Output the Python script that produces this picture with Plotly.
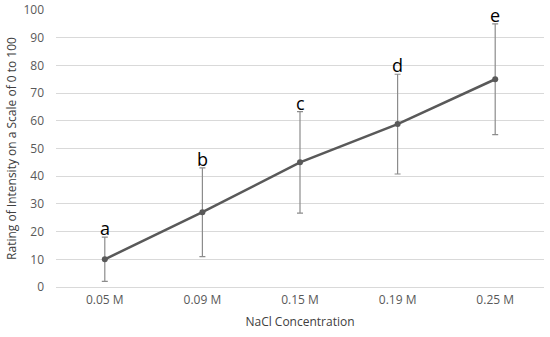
import plotly.graph_objects as go

categories = ["0.05 M", "0.09 M", "0.15 M", "0.19 M", "0.25 M"]
means = [10, 27, 45, 58.8, 75]
errors = [8, 16, 18.3, 18, 20]
letters = ["a", "b", "c", "d", "e"]

fig = go.Figure()
fig.add_trace(go.Scatter(
    x=categories, y=means, mode="lines+markers",
    line=dict(color="#595959", width=2.5),
    marker=dict(color="#595959", size=6),
    error_y=dict(type="data", array=errors, visible=True, color="#8c8c8c", thickness=1.2, width=3),
    showlegend=False,
))

for c, m, e, t in zip(categories, means, errors, letters):
    fig.add_annotation(x=c, y=m + e, text=t, showarrow=False, yanchor="bottom", yshift=-5,
                       font=dict(size=18, color="#000000", family="Open Sans"))

fig.update_layout(
    width=550, height=337,
    margin=dict(l=56, r=6, t=10, b=50),
    paper_bgcolor="white", plot_bgcolor="white",
    font=dict(family="Open Sans", color="#595959", size=12),
    xaxis=dict(title=dict(text="NaCl Concentration", font=dict(size=12, color="#404040"), standoff=10),
               range=[-0.5, 4.5], automargin=False, ticklabelstandoff=4,
               showgrid=False, showline=False, tickfont=dict(size=12, color="#595959")),
    yaxis=dict(title=dict(text="Rating of Intensity on a Scale of 0 to 100", font=dict(size=12, color="#404040"), standoff=4),
               range=[0, 100], dtick=10, showgrid=True, gridcolor="#d9d9d9", gridwidth=1, automargin=False,
               zeroline=True, zerolinecolor="#d9d9d9", zerolinewidth=1, showline=False,
               ticklabelstandoff=11,
               tickfont=dict(size=12, color="#595959")),
)

fig.write_html("out.html", config={"displayModeBar": False},
               post_script="document.body.style.margin='0';document.body.style.padding='0';")
